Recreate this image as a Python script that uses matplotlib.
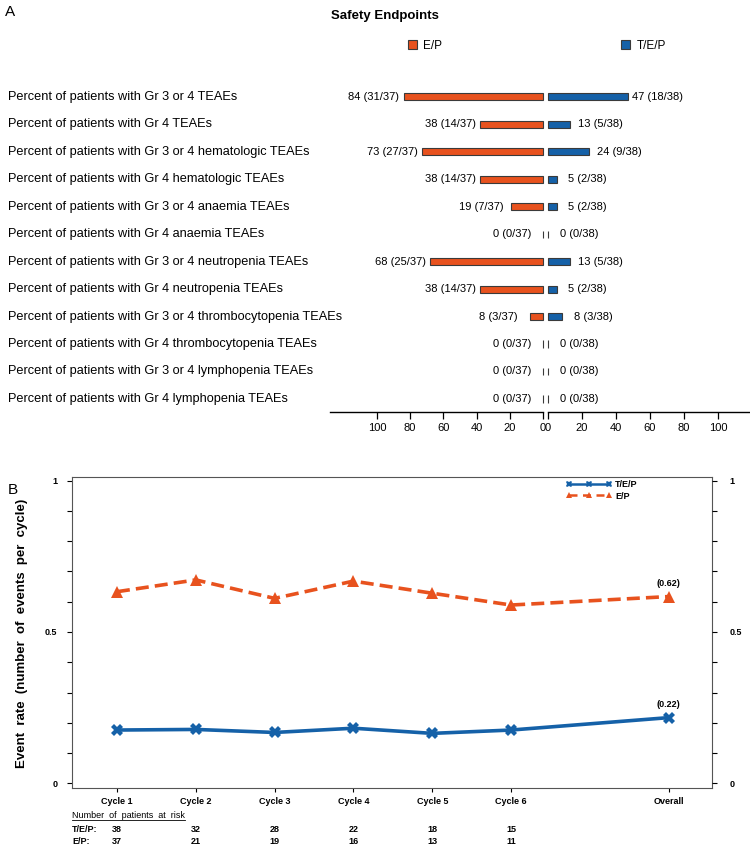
import matplotlib
matplotlib.use('Agg')
import matplotlib.pyplot as plt
import numpy as np
from matplotlib.patches import Patch
from matplotlib.lines import Line2D
from matplotlib.transforms import blended_transform_factory

plt.rcParams['font.family'] = ['Liberation Sans', 'DejaVu Sans']

orange = '#E8521E'
blue = '#1561A8'
edge = '#3a3a3a'

# ---- panel A data ----
categories = [
    'Percent of patients with Gr 3 or 4 TEAEs',
    'Percent of patients with Gr 4 TEAEs',
    'Percent of patients with Gr 3 or 4 hematologic TEAEs',
    'Percent of patients with Gr 4 hematologic TEAEs',
    'Percent of patients with Gr 3 or 4 anaemia TEAEs',
    'Percent of patients with Gr 4 anaemia TEAEs',
    'Percent of patients with Gr 3 or 4 neutropenia TEAEs',
    'Percent of patients with Gr 4 neutropenia TEAEs',
    'Percent of patients with Gr 3 or 4 thrombocytopenia TEAEs',
    'Percent of patients with Gr 4 thrombocytopenia TEAEs',
    'Percent of patients with Gr 3 or 4 lymphopenia TEAEs',
    'Percent of patients with Gr 4 lymphopenia TEAEs',
]
ep_pct = [84, 38, 73, 38, 19, 0, 68, 38, 8, 0, 0, 0]
ep_n = [31, 14, 27, 14, 7, 0, 25, 14, 3, 0, 0, 0]
ep_total = 37
tep_pct = [47, 13, 24, 5, 5, 0, 13, 5, 8, 0, 0, 0]
tep_n = [18, 5, 9, 2, 2, 0, 5, 2, 3, 0, 0, 0]
tep_total = 38
pct_ticks = [0, 20, 40, 60, 80, 100]

# ---- panel B data ----
cycles = ['Cycle 1', 'Cycle 2', 'Cycle 3', 'Cycle 4', 'Cycle 5', 'Cycle 6', 'Overall']
cycle_pos = [1, 2, 3, 4, 5, 6, 8]
tep_rate = [0.176, 0.178, 0.168, 0.182, 0.165, 0.176, 0.217]
ep_rate = [0.633, 0.672, 0.611, 0.668, 0.628, 0.589, 0.617]
overall_tep = '(0.22)'
overall_ep = '(0.62)'
risk_tep = [38, 32, 28, 22, 18, 15]
risk_ep = [37, 21, 19, 16, 13, 11]

W, H = 750, 852
fig = plt.figure(figsize=(W / 100, H / 100), dpi=100)


def fx(px):
    return px / W


def fy(py):
    return 1 - py / H


# ================= Panel A =================
a_top, a_bot = 70, 412
axL = fig.add_axes([fx(330), fy(a_bot), fx(543 - 330), (a_bot - a_top) / H])
axR = fig.add_axes([fx(548), fy(a_bot), fx(750 - 548), (a_bot - a_top) / H])

ypos = np.arange(len(categories))
bh = 0.26
axL.barh(ypos, ep_pct, height=bh, color=orange, edgecolor=edge, linewidth=0.8, clip_on=False)
axR.barh(ypos, tep_pct, height=bh, color=blue, edgecolor=edge, linewidth=0.8, clip_on=False)

axL.set_xlim(128.3, 0)
axR.set_xlim(0, 118.8)
for ax in (axL, axR):
    ax.set_ylim(11.475, -0.98)
    for s in ('top', 'right', 'left'):
        ax.spines[s].set_visible(False)
    ax.spines['bottom'].set_linewidth(1.0)
    ax.set_yticks([])
    ax.set_xticks(pct_ticks)
    ax.set_xticklabels([str(t) for t in pct_ticks])
    ax.tick_params(axis='x', length=5, width=0.9, labelsize=8, pad=3)

for i in ypos:
    s = f'{ep_pct[i]} ({ep_n[i]}/{ep_total})'
    axL.annotate(s, (ep_pct[i], i), xytext=(-(3 + (10 - len(s)) * 2.8), 0),
                 textcoords='offset points', ha='right', va='center', fontsize=8)
    s = f'{tep_pct[i]} ({tep_n[i]}/{tep_total})'
    axR.annotate(s, (tep_pct[i], i), xytext=(3 + (10 - len(s)) * 2.8, 0),
                 textcoords='offset points', ha='left', va='center', fontsize=8)

lab_tr = blended_transform_factory(fig.transFigure, axL.transData)
for i, c in enumerate(categories):
    fig.text(fx(8), i, c, transform=lab_tr, ha='left', va='center', fontsize=9.2)

fig.text(fx(5), fy(12), 'A', fontsize=11, ha='left', va='center')
fig.text(fx(385), fy(16), 'Safety Endpoints', fontsize=9.5, fontweight='bold',
         ha='center', va='center')

for ax, lab, col, x0 in ((axL, 'E/P', orange, 408), (axR, 'T/E/P', blue, 621)):
    ax.legend(handles=[Patch(facecolor=col, edgecolor=edge, linewidth=0.8, label=lab)],
              loc='center left', bbox_to_anchor=(fx(x0), fy(46)),
              bbox_transform=fig.transFigure, frameon=False, fontsize=8.5,
              handlelength=0.8, handleheight=0.8, handletextpad=0.5,
              borderpad=0, borderaxespad=0)

# ================= Panel B =================
b_top, b_bot = 476.7, 787.7
axB = fig.add_axes([fx(72), fy(b_bot), fx(712 - 72), (b_bot - b_top) / H])
axB.plot(cycle_pos, ep_rate, color=orange, linewidth=2.6, linestyle=(0, (3.6, 1.7)),
         marker='^', markersize=8.5, markeredgewidth=0)
axB.plot(cycle_pos, tep_rate, color=blue, linewidth=2.6,
         marker='X', markersize=9, markeredgewidth=0)

axB.set_xlim(0.43, 8.55)
axB.set_ylim(-0.0145, 1.013)
yt = np.round(np.arange(0, 1.01, 0.1), 1)
ylabs = ['0' if v == 0 else '0.5' if v == 0.5 else '1' if v == 1 else '' for v in yt]
axB.set_yticks(yt)
axB.set_yticklabels(ylabs)
axB.set_xticks(cycle_pos)
axB.set_xticklabels(cycles)
axB.tick_params(axis='y', length=3.5, width=0.8, labelsize=6.5, pad=7)
axB.tick_params(axis='x', length=3, width=0.8, labelsize=6.5, pad=4)
for t in axB.get_xticklabels() + axB.get_yticklabels():
    t.set_fontweight('bold')
for s in axB.spines.values():
    s.set_linewidth(0.8)
    s.set_color('#555555')

axR2 = axB.twinx()
axR2.set_ylim(axB.get_ylim())
axR2.set_yticks(yt)
axR2.set_yticklabels(ylabs)
axR2.tick_params(axis='y', length=3.5, width=0.8, labelsize=6.5, pad=9)
for t in axR2.get_yticklabels():
    t.set_fontweight('bold')
for s in axR2.spines.values():
    s.set_visible(False)

axB.annotate(overall_ep, (cycle_pos[-1], ep_rate[-1]), xytext=(0, 6),
             textcoords='offset points', ha='center', va='bottom',
             fontsize=6.5, fontweight='bold')
axB.annotate(overall_tep, (cycle_pos[-1], tep_rate[-1]), xytext=(0, 6),
             textcoords='offset points', ha='center', va='bottom',
             fontsize=6.5, fontweight='bold')

leg_handles = [
    Line2D([], [], color=blue, linewidth=1.8, marker='X', markersize=5, markeredgewidth=0, label='T/E/P'),
    Line2D([], [], color=orange, linewidth=1.8, linestyle=(0, (3.2, 2.2)), marker='^',
           markersize=5, markeredgewidth=0, label='E/P'),
]
leg = axB.legend(handles=leg_handles, loc='upper left', bbox_to_anchor=(fx(560), fy(474)),
                 bbox_transform=fig.transFigure, frameon=False, numpoints=3,
                 handlelength=5.0, handletextpad=0.4, labelspacing=0.25,
                 prop={'size': 6.5, 'weight': 'bold'}, borderpad=0.2)

fig.text(fx(22), fy(633), 'Event  rate  (number  of  events  per  cycle)', rotation=90,
         fontsize=9.5, fontweight='bold', ha='center', va='center')
fig.text(fx(8), fy(490), 'B', fontsize=11, ha='left', va='center')

# risk table
rt = fig.text(fx(72), fy(816), 'Number  of  patients  at  risk', fontsize=6.5,
              ha='left', va='center')
tab_tr = blended_transform_factory(axB.transData, fig.transFigure)
fig.text(fx(72), fy(830), 'T/E/P:', fontsize=6.5, fontweight='bold', ha='left', va='center')
fig.text(fx(72), fy(842), 'E/P:', fontsize=6.5, fontweight='bold', ha='left', va='center')
for p, a, b in zip(cycle_pos, risk_tep, risk_ep):
    fig.text(p, fy(830), str(a), transform=tab_tr, fontsize=6.5, fontweight='bold',
             ha='center', va='center')
    fig.text(p, fy(842), str(b), transform=tab_tr, fontsize=6.5, fontweight='bold',
             ha='center', va='center')

fig.canvas.draw()
bb = rt.get_window_extent().transformed(fig.transFigure.inverted())
fig.add_artist(Line2D([bb.x0, bb.x1], [bb.y0 + 0.0005, bb.y0 + 0.0005],
                      transform=fig.transFigure, color='black', linewidth=0.6))

fig.savefig('out.png', dpi=100)
